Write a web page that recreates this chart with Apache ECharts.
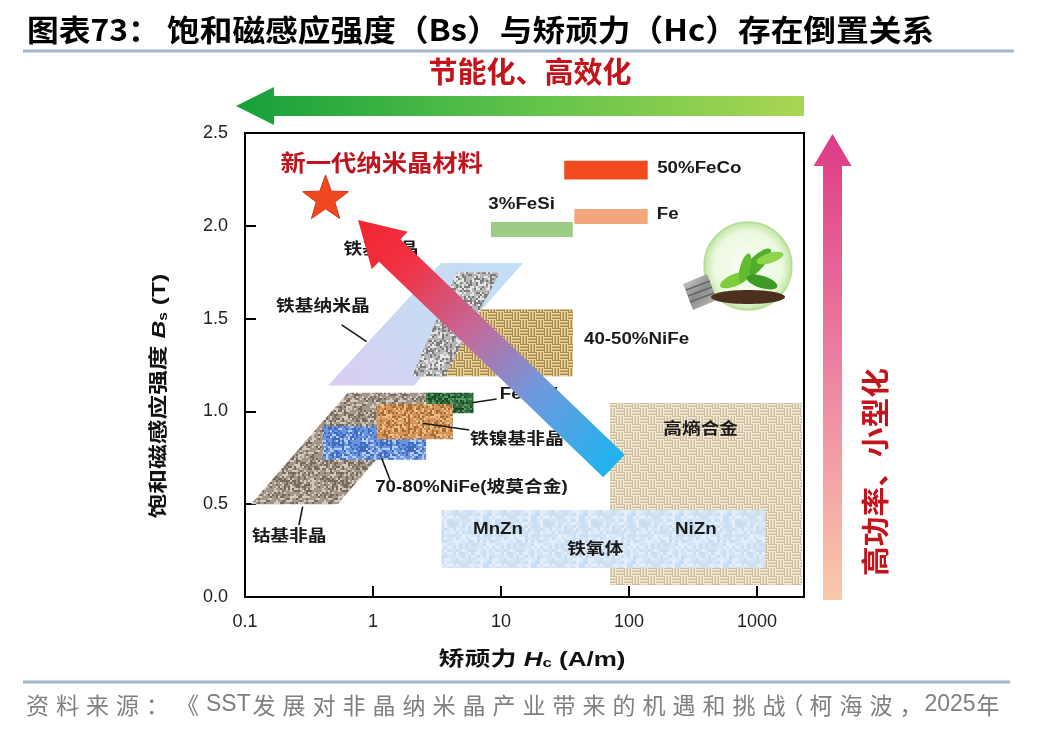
<!DOCTYPE html>
<html><head><meta charset="utf-8">
<script src="https://cdn.jsdelivr.net/npm/echarts@6/dist/echarts.min.js"></script>
<style>html,body{margin:0;padding:0;background:#fff}#c{width:1048px;height:732px}</style>
</head><body><div id="c"></div>
<script>
// ---------------- data ----------------
const xTickLabels = ['0.1', '1', '10', '100', '1000'];
const yTickLabels = ['0.0', '0.5', '1.0', '1.5', '2.0', '2.5'];
const hcMin = 0.1, hcMax = 2330;
const bsMin = 0, bsMax = 2.5, bsStep = 0.5;

// polygons [Hc, Bs]
const feNanoRegion = [[0.445, 1.14], [2.09, 1.14], [14.9, 1.80], [3.4, 1.80]];      // 铁基纳米晶
const feAmorphousBand = [[2.02, 1.19], [3.65, 1.19], [9.82, 1.75], [4.53, 1.75]];   // 铁基非晶
const coAmorphousRegion = [[0.111, 0.5], [0.53, 0.5], [3.0, 1.10], [0.635, 1.10]]; // 钴基非晶
// boxes [HcMin, HcMax, BsMin, BsMax]
const niFe4050Box = [2.05, 36.5, 1.19, 1.55];
const permalloyBox = [0.405, 2.6, 0.74, 0.92];
const feNiAmorphousBox = [1.07, 4.2, 0.85, 1.04];
const feSiAlBox = [2.6, 6.1, 0.99, 1.10];
const heAlloyBox = [71, 2250, 0.065, 1.045];
const ferriteBox = [3.43, 1155, 0.156, 0.469];
const feSiBar = [8.35, 36.4, 1.94, 2.02];
const feBar = [37.4, 140, 2.01, 2.09];
const feCoBar = [31.2, 140, 2.25, 2.35];
const newNanoStar = [0.426, 2.144];
const trendArrow = [[76.4, 0.706], [0.764, 2.031]];

const labelTexts = ['铁基纳米晶', '铁基非晶', '3%FeSi', 'Fe', '50%FeCo', '40-50%NiFe', 'FeSiAl', '铁镍基非晶', '70-80%NiFe(坡莫合金)', '钴基非晶', '高熵合金', 'MnZn', 'NiZn', '铁氧体'];
const labelHc = [0.406, 1.155, 14.5, 165, 166, 44.5, 9.8, 5.73, 1.04, 0.221, 363, 9.48, 333, 54.7];
const labelBs = [1.5625, 1.87, 2.112, 2.058, 2.306, 1.385, 1.088, 0.846, 0.591, 0.323, 0.90, 0.361, 0.361, 0.253];
const labelAlign = ['center', 'center', 'center', 'left', 'left', 'left', 'left', 'left', 'left', 'center', 'center', 'center', 'center', 'center'];
const starLabelText = '新一代纳米晶材料';
const starLabelHc = [1.17];
const starLabelBs = [2.34];

const leaderLines = [
  [[0.569, 1.466], [0.893, 1.376]],
  [[5.93, 1.047], [9.25, 1.067]],
  [[2.44, 0.936], [5.65, 0.90]],
  [[1.17, 0.747], [1.36, 0.63]],
  [[0.282, 0.487], [0.264, 0.388]]
];

const titleHead = '图表73：';
const titleBody = '饱和磁感应强度（Bs）与矫顽力（Hc）存在倒置关系';
const sourceText = '资料来源：《SST发展对非晶纳米晶产业带来的机遇和挑战（柯海波，2025年';
const topArrowText = '节能化、高效化';
const sideArrowText = '高功率、小型化';

// ---------------- textures ----------------
function hash(i, j, s) { const v = Math.sin(i * 12.9898 + j * 78.233 + s * 37.719) * 43758.5453; return v - Math.floor(v); }
function speckle(base, dark, light, s, cell) {
  cell = cell || 2;
  const c = document.createElement('canvas'); c.width = c.height = 48; const g = c.getContext('2d');
  g.fillStyle = base; g.fillRect(0, 0, 48, 48);
  for (let i = 0; i < 48; i += cell) for (let j = 0; j < 48; j += cell) {
    const f = hash(i, j, s);
    if (f < 0.3) { g.fillStyle = dark; g.fillRect(i, j, cell, cell); }
    else if (f > 0.75) { g.fillStyle = light; g.fillRect(i, j, cell, cell); }
  }
  return { image: c, repeat: 'repeat' };
}
function weave(base, dark, light) {
  const c = document.createElement('canvas'); c.width = c.height = 16; const g = c.getContext('2d');
  g.fillStyle = base; g.fillRect(0, 0, 16, 16);
  for (let bx = 0; bx < 2; bx++) for (let by = 0; by < 2; by++) {
    const x0 = bx * 8, y0 = by * 8, horiz = (bx + by) % 2 === 0;
    for (let k = 0; k < 3; k++) {
      g.fillStyle = dark;
      if (horiz) g.fillRect(x0, y0 + k * 3, 8, 1); else g.fillRect(x0 + k * 3, y0, 1, 8);
      g.fillStyle = light;
      if (horiz) g.fillRect(x0, y0 + k * 3 + 1, 8, 1); else g.fillRect(x0 + k * 3 + 1, y0, 1, 8);
    }
  }
  return { image: c, repeat: 'repeat' };
}

const fills = {
  cobalt: speckle('#a49789', '#76695e', '#d3c9bd', 1),
  gray: speckle('#b6b6b6', '#7b7b7b', '#e6e6e6', 2),
  orange: speckle('#d4955a', '#a96a35', '#ecbf88', 3),
  green: speckle('#2f6e3d', '#1a4a28', '#5a9a66', 4),
  permalloy: speckle('#6c94dc', '#3f6cc0', '#b5cdf2', 5),
  tan: weave('#d0b174', '#a8884a', '#ead6a3'),
  he: weave('#e3d6bd', '#cbbb9a', '#f2eadb'),
  ferrite: speckle('#d5e5f5', '#cadef2', '#e2eef9', 6, 3),
  nano: new echarts.graphic.LinearGradient(0, 1, 1, 0, [
    { offset: 0, color: '#dccdf0' }, { offset: 0.5, color: '#c8dbf3' }, { offset: 1, color: '#c2dff5' }])
};

// ---------------- helpers ----------------
function boxPts(b) { return [[b[0], b[2]], [b[1], b[2]], [b[1], b[3]], [b[0], b[3]]]; }
function regionSeries(name, pts, fill, z) {
  return {
    type: 'custom', name: name, coordinateSystem: 'cartesian2d', z: z, silent: true,
    data: [[1, 1]],
    renderItem: function (params, api) {
      return { type: 'polygon', shape: { points: pts.map(p => api.coord(p)) }, style: { fill: fill } };
    }
  };
}

const FONT = '"Liberation Sans", "Noto Sans CJK SC", sans-serif';
const CJK = '"Noto Sans CJK SC", "Liberation Sans", sans-serif';

const series = [
  regionSeries('高熵合金', boxPts(heAlloyBox), fills.he, 2),
  regionSeries('40-50%NiFe', boxPts(niFe4050Box), fills.tan, 3),
  regionSeries('铁基纳米晶', feNanoRegion, fills.nano, 4),
  regionSeries('铁基非晶', feAmorphousBand, fills.gray, 5),
  regionSeries('钴基非晶', coAmorphousRegion, fills.cobalt, 6),
  regionSeries('FeSiAl', boxPts(feSiAlBox), fills.green, 7),
  regionSeries('70-80%NiFe', boxPts(permalloyBox), fills.permalloy, 8),
  regionSeries('铁镍基非晶', boxPts(feNiAmorphousBox), fills.orange, 9),
  regionSeries('铁氧体', boxPts(ferriteBox), fills.ferrite, 10),
  regionSeries('3%FeSi', boxPts(feSiBar), '#9bcd84', 10),
  regionSeries('Fe', boxPts(feBar), '#f0a77c', 10),
  regionSeries('50%FeCo', boxPts(feCoBar), '#f24a1f', 10),
  {
    type: 'custom', name: 'leaders', coordinateSystem: 'cartesian2d', z: 11, silent: true,
    data: leaderLines.map((l, i) => [l[0][0], l[0][1], i]),
    renderItem: function (params, api) {
      const l = leaderLines[params.dataIndex];
      const a = api.coord(l[0]), b = api.coord(l[1]);
      return { type: 'line', shape: { x1: a[0], y1: a[1], x2: b[0], y2: b[1] }, style: { stroke: '#1a1a1a', lineWidth: 1.6 } };
    }
  },
  {
    type: 'custom', name: 'labels', coordinateSystem: 'cartesian2d', z: 12, silent: true,
    data: labelHc.map((h, i) => [h, labelBs[i]]),
    renderItem: function (params, api) {
      const i = params.dataIndex;
      const p = api.coord([api.value(0), api.value(1)]);
      return {
        type: 'text', x: p[0], y: p[1], scaleX: 1.17,
        style: { text: labelTexts[i], fill: '#1a1a1a', fontSize: 16, fontWeight: 'bold', fontFamily: FONT, align: labelAlign[i], verticalAlign: 'middle' }
      };
    }
  },
  {
    type: 'custom', name: 'trend', coordinateSystem: 'cartesian2d', z: 13, silent: true,
    data: [trendArrow[0]],
    renderItem: function (params, api) {
      const T = api.coord(trendArrow[0]), P = api.coord(trendArrow[1]);
      const dx = P[0] - T[0], dy = P[1] - T[1], L = Math.hypot(dx, dy);
      const ux = dx / L, uy = dy / L, nx = -uy, ny = ux;
      const hw = 15.5, hhw = 26, hl = 44;
      const H = [P[0] - ux * hl, P[1] - uy * hl];
      const pts = [
        [T[0] + nx * hw, T[1] + ny * hw], [H[0] + nx * hw, H[1] + ny * hw], [H[0] + nx * hhw, H[1] + ny * hhw],
        P, [H[0] - nx * hhw, H[1] - ny * hhw], [H[0] - nx * hw, H[1] - ny * hw], [T[0] - nx * hw, T[1] - ny * hw]];
      return {
        type: 'polygon', shape: { points: pts },
        style: { fill: new echarts.graphic.LinearGradient(T[0], T[1], P[0], P[1], [
          { offset: 0, color: '#1fb3ef' }, { offset: 0.3, color: '#6d9ade' }, { offset: 0.55, color: '#c36a9c' },
          { offset: 0.8, color: '#ef3447' }, { offset: 1, color: '#f4232f' }], true) }
      };
    }
  },
  {
    type: 'custom', name: 'star', coordinateSystem: 'cartesian2d', z: 14, silent: true,
    data: [newNanoStar],
    renderItem: function (params, api) {
      const c = api.coord([api.value(0), api.value(1)]);
      const pts = [];
      for (let k = 0; k < 10; k++) {
        const a = -Math.PI / 2 + k * Math.PI / 5, r = k % 2 ? 9.8 : 24;
        pts.push([c[0] + r * Math.cos(a), c[1] + r * Math.sin(a)]);
      }
      return { type: 'polygon', shape: { points: pts }, style: { fill: '#f1491f', stroke: '#d2361a', lineWidth: 1 } };
    }
  },
  {
    type: 'custom', name: 'starLabel', coordinateSystem: 'cartesian2d', z: 14, silent: true,
    data: starLabelHc.map((h, i) => [h, starLabelBs[i]]),
    renderItem: function (params, api) {
      const p = api.coord([api.value(0), api.value(1)]);
      return { type: 'text', x: p[0], y: p[1], scaleX: 1.1,
        style: { text: starLabelText, fill: '#c0141e', fontSize: 23, fontWeight: 'bold', fontFamily: CJK, align: 'center', verticalAlign: 'middle' } };
    }
  }
];

// ---------------- source line per character ----------------
function sourceElements() {
  const els = [];
  let x = 26;
  const y = 705;
  const chars = Array.from(sourceText);
  let i = 0;
  while (i < chars.length) {
    const ch = chars[i];
    if (/[A-Za-z0-9]/.test(ch)) {
      let run = '';
      while (i < chars.length && /[A-Za-z0-9]/.test(chars[i])) { run += chars[i]; i++; }
      els.push({ type: 'text', x: x, y: y, style: { text: run, fill: '#808080', fontSize: 23, fontFamily: '"Liberation Sans", sans-serif', verticalAlign: 'middle' } });
      x += run.length * (/[0-9]/.test(run) ? 13 : 15.5);
      continue;
    }
    let off = 0, adv = 30;
    if (ch === '（') { off = -12; adv = 17; }
    if (ch === '，') { adv = 25; }
    els.push({ type: 'text', x: x + off, y: y, style: { text: ch, fill: '#808080', fontSize: 23, fontFamily: CJK, verticalAlign: 'middle' } });
    x += adv;
    i++;
  }
  return els;
}

const graphic = [
  { type: 'text', x: 27, y: 30, scaleX: 1.06, style: { text: titleHead, fill: '#000', fontSize: 30, fontWeight: 'bold', fontFamily: CJK, verticalAlign: 'middle' } },
  { type: 'text', x: 167, y: 30, scaleX: 1.09, style: { text: titleBody, fill: '#000', fontSize: 30, fontWeight: 'bold', fontFamily: CJK, verticalAlign: 'middle' } },
  { type: 'line', shape: { x1: 23, y1: 51, x2: 1014, y2: 51 }, style: { stroke: '#a3b7cf', lineWidth: 3 } },
  { type: 'line', shape: { x1: 23, y1: 682, x2: 1010, y2: 682 }, style: { stroke: '#a3b7cf', lineWidth: 3 } },
  // top green arrow
  { type: 'polygon', shape: { points: [[236, 106], [274, 87], [274, 96], [804, 96], [804, 116], [274, 116], [274, 125]] },
    style: { fill: new echarts.graphic.LinearGradient(236, 0, 804, 0, [{ offset: 0, color: '#15a03a' }, { offset: 0.5, color: '#5ec24a' }, { offset: 1, color: '#aad652' }], true) } },
  { type: 'text', x: 530, y: 72, style: { text: topArrowText, fill: '#c3141c', fontSize: 29, fontWeight: 'bold', fontFamily: CJK, align: 'center', verticalAlign: 'middle' } },
  // right pink arrow
  { type: 'polygon', shape: { points: [[832.5, 134], [851.5, 166], [842, 166], [842, 600], [823, 600], [823, 166], [813.5, 166]] },
    style: { fill: new echarts.graphic.LinearGradient(0, 134, 0, 600, [{ offset: 0, color: '#de3a86' }, { offset: 0.5, color: '#ec82a2' }, { offset: 1, color: '#fac9a9' }], true) } },
  { type: 'text', x: 875, y: 472, rotation: Math.PI / 2, scaleX: 1.06, style: { text: sideArrowText, fill: '#c3141c', fontSize: 28, fontWeight: 'bold', fontFamily: CJK, align: 'center', verticalAlign: 'middle' } },
  // axis names
  { type: 'text', x: 160, y: 396, rotation: Math.PI / 2, scaleX: 1.3,
    style: { text: '{a|饱和磁感应强度 }{b|B}{c|s}{a| (T)}', align: 'center', verticalAlign: 'middle',
      rich: { a: { fontSize: 19, fontWeight: 'bold', fontFamily: FONT, fill: '#111' },
              b: { fontSize: 19, fontWeight: 'bold', fontStyle: 'italic', fontFamily: FONT, fill: '#111' },
              c: { fontSize: 12, fontWeight: 'bold', fontFamily: FONT, fill: '#111', verticalAlign: 'bottom' } } } },
  { type: 'text', x: 532, y: 660, scaleX: 1.3,
    style: { text: '{a|矫顽力 }{b|H}{c|c}{a| (A/m)}', align: 'center', verticalAlign: 'middle',
      rich: { a: { fontSize: 20, fontWeight: 'bold', fontFamily: FONT, fill: '#111' },
              b: { fontSize: 20, fontWeight: 'bold', fontStyle: 'italic', fontFamily: FONT, fill: '#111' },
              c: { fontSize: 13, fontWeight: 'bold', fontFamily: FONT, fill: '#111', verticalAlign: 'bottom' } } } },
  // light bulb decoration
  { type: 'group', children: [
    { type: 'circle', shape: { cx: 748, cy: 266, r: 44 },
      style: { fill: new echarts.graphic.RadialGradient(0.5, 0.5, 0.5, [{ offset: 0, color: 'rgba(255,255,255,0.9)' }, { offset: 0.75, color: 'rgba(225,245,205,0.6)' }, { offset: 1, color: 'rgba(165,218,125,0.75)' }]),
        stroke: 'rgba(150,205,110,0.55)', lineWidth: 1.5 } },
    { type: 'polygon', shape: { points: [[683, 284], [707, 274], [717, 300], [693, 310]] },
      style: { fill: new echarts.graphic.LinearGradient(0, 0, 1, 1, [{ offset: 0, color: '#d8d8d8' }, { offset: 0.5, color: '#8d8d8d' }, { offset: 1, color: '#c4c4c4' }]) } },
    { type: 'line', shape: { x1: 686, y1: 290, x2: 710, y2: 281 }, style: { stroke: '#666', lineWidth: 1.5 } },
    { type: 'line', shape: { x1: 688, y1: 296, x2: 712, y2: 287 }, style: { stroke: '#666', lineWidth: 1.5 } },
    { type: 'line', shape: { x1: 690, y1: 302, x2: 714, y2: 293 }, style: { stroke: '#666', lineWidth: 1.5 } },
    { type: 'ellipse', shape: { cx: 748, cy: 297, rx: 37, ry: 7 }, style: { fill: '#4b3020' } },
    { type: 'ellipse', x: 755, y: 265, rotation: 0.8, shape: { cx: 0, cy: 0, rx: 22, ry: 7 }, style: { fill: '#4fae2a' } },
    { type: 'ellipse', x: 735, y: 280, rotation: 0.4, shape: { cx: 0, cy: 0, rx: 16, ry: 6 }, style: { fill: '#7fcc3c' } },
    { type: 'ellipse', x: 762, y: 282, rotation: -0.3, shape: { cx: 0, cy: 0, rx: 16, ry: 6 }, style: { fill: '#3d9a25' } },
    { type: 'ellipse', x: 770, y: 258, rotation: 0.3, shape: { cx: 0, cy: 0, rx: 14, ry: 5 }, style: { fill: '#8fd44a' } },
    { type: 'ellipse', x: 745, y: 268, rotation: 1.3, shape: { cx: 0, cy: 0, rx: 15, ry: 5 }, style: { fill: '#62bb30' } }
  ] }
].concat(sourceElements());

const option = {
  animation: false,
  backgroundColor: '#fff',
  grid: { left: 245, right: 244, top: 133, bottom: 135, show: true, borderColor: '#000', borderWidth: 2, backgroundColor: 'transparent' },
  xAxis: {
    type: 'log', logBase: 10, min: hcMin, max: hcMax,
    axisLine: { show: true, lineStyle: { color: '#000', width: 2 } },
    axisTick: { show: true, inside: true, length: 11, lineStyle: { color: '#000', width: 2 } },
    minorTick: { show: false }, splitLine: { show: false },
    axisLabel: { margin: 16, fontSize: 18, color: '#222', fontFamily: '"Liberation Sans", sans-serif',
      formatter: function (v) { const s = String(+(+v).toPrecision(4)); return xTickLabels.indexOf(s) >= 0 ? s : ''; } }
  },
  yAxis: {
    type: 'value', min: bsMin, max: bsMax, interval: bsStep,
    axisLine: { show: true, lineStyle: { color: '#000', width: 2 } },
    axisTick: { show: true, inside: true, length: 11, lineStyle: { color: '#000', width: 2 } },
    splitLine: { show: false },
    axisLabel: { margin: 17, fontSize: 18, color: '#222', fontFamily: '"Liberation Sans", sans-serif',
      formatter: function (v) { const s = (+v).toFixed(1); return yTickLabels.indexOf(s) >= 0 ? s : ''; } }
  },
  graphic: graphic,
  series: series
};

const chart = echarts.init(document.getElementById('c'), null, { renderer: 'canvas', width: 1048, height: 732 });
chart.setOption(option);
</script></body></html>
